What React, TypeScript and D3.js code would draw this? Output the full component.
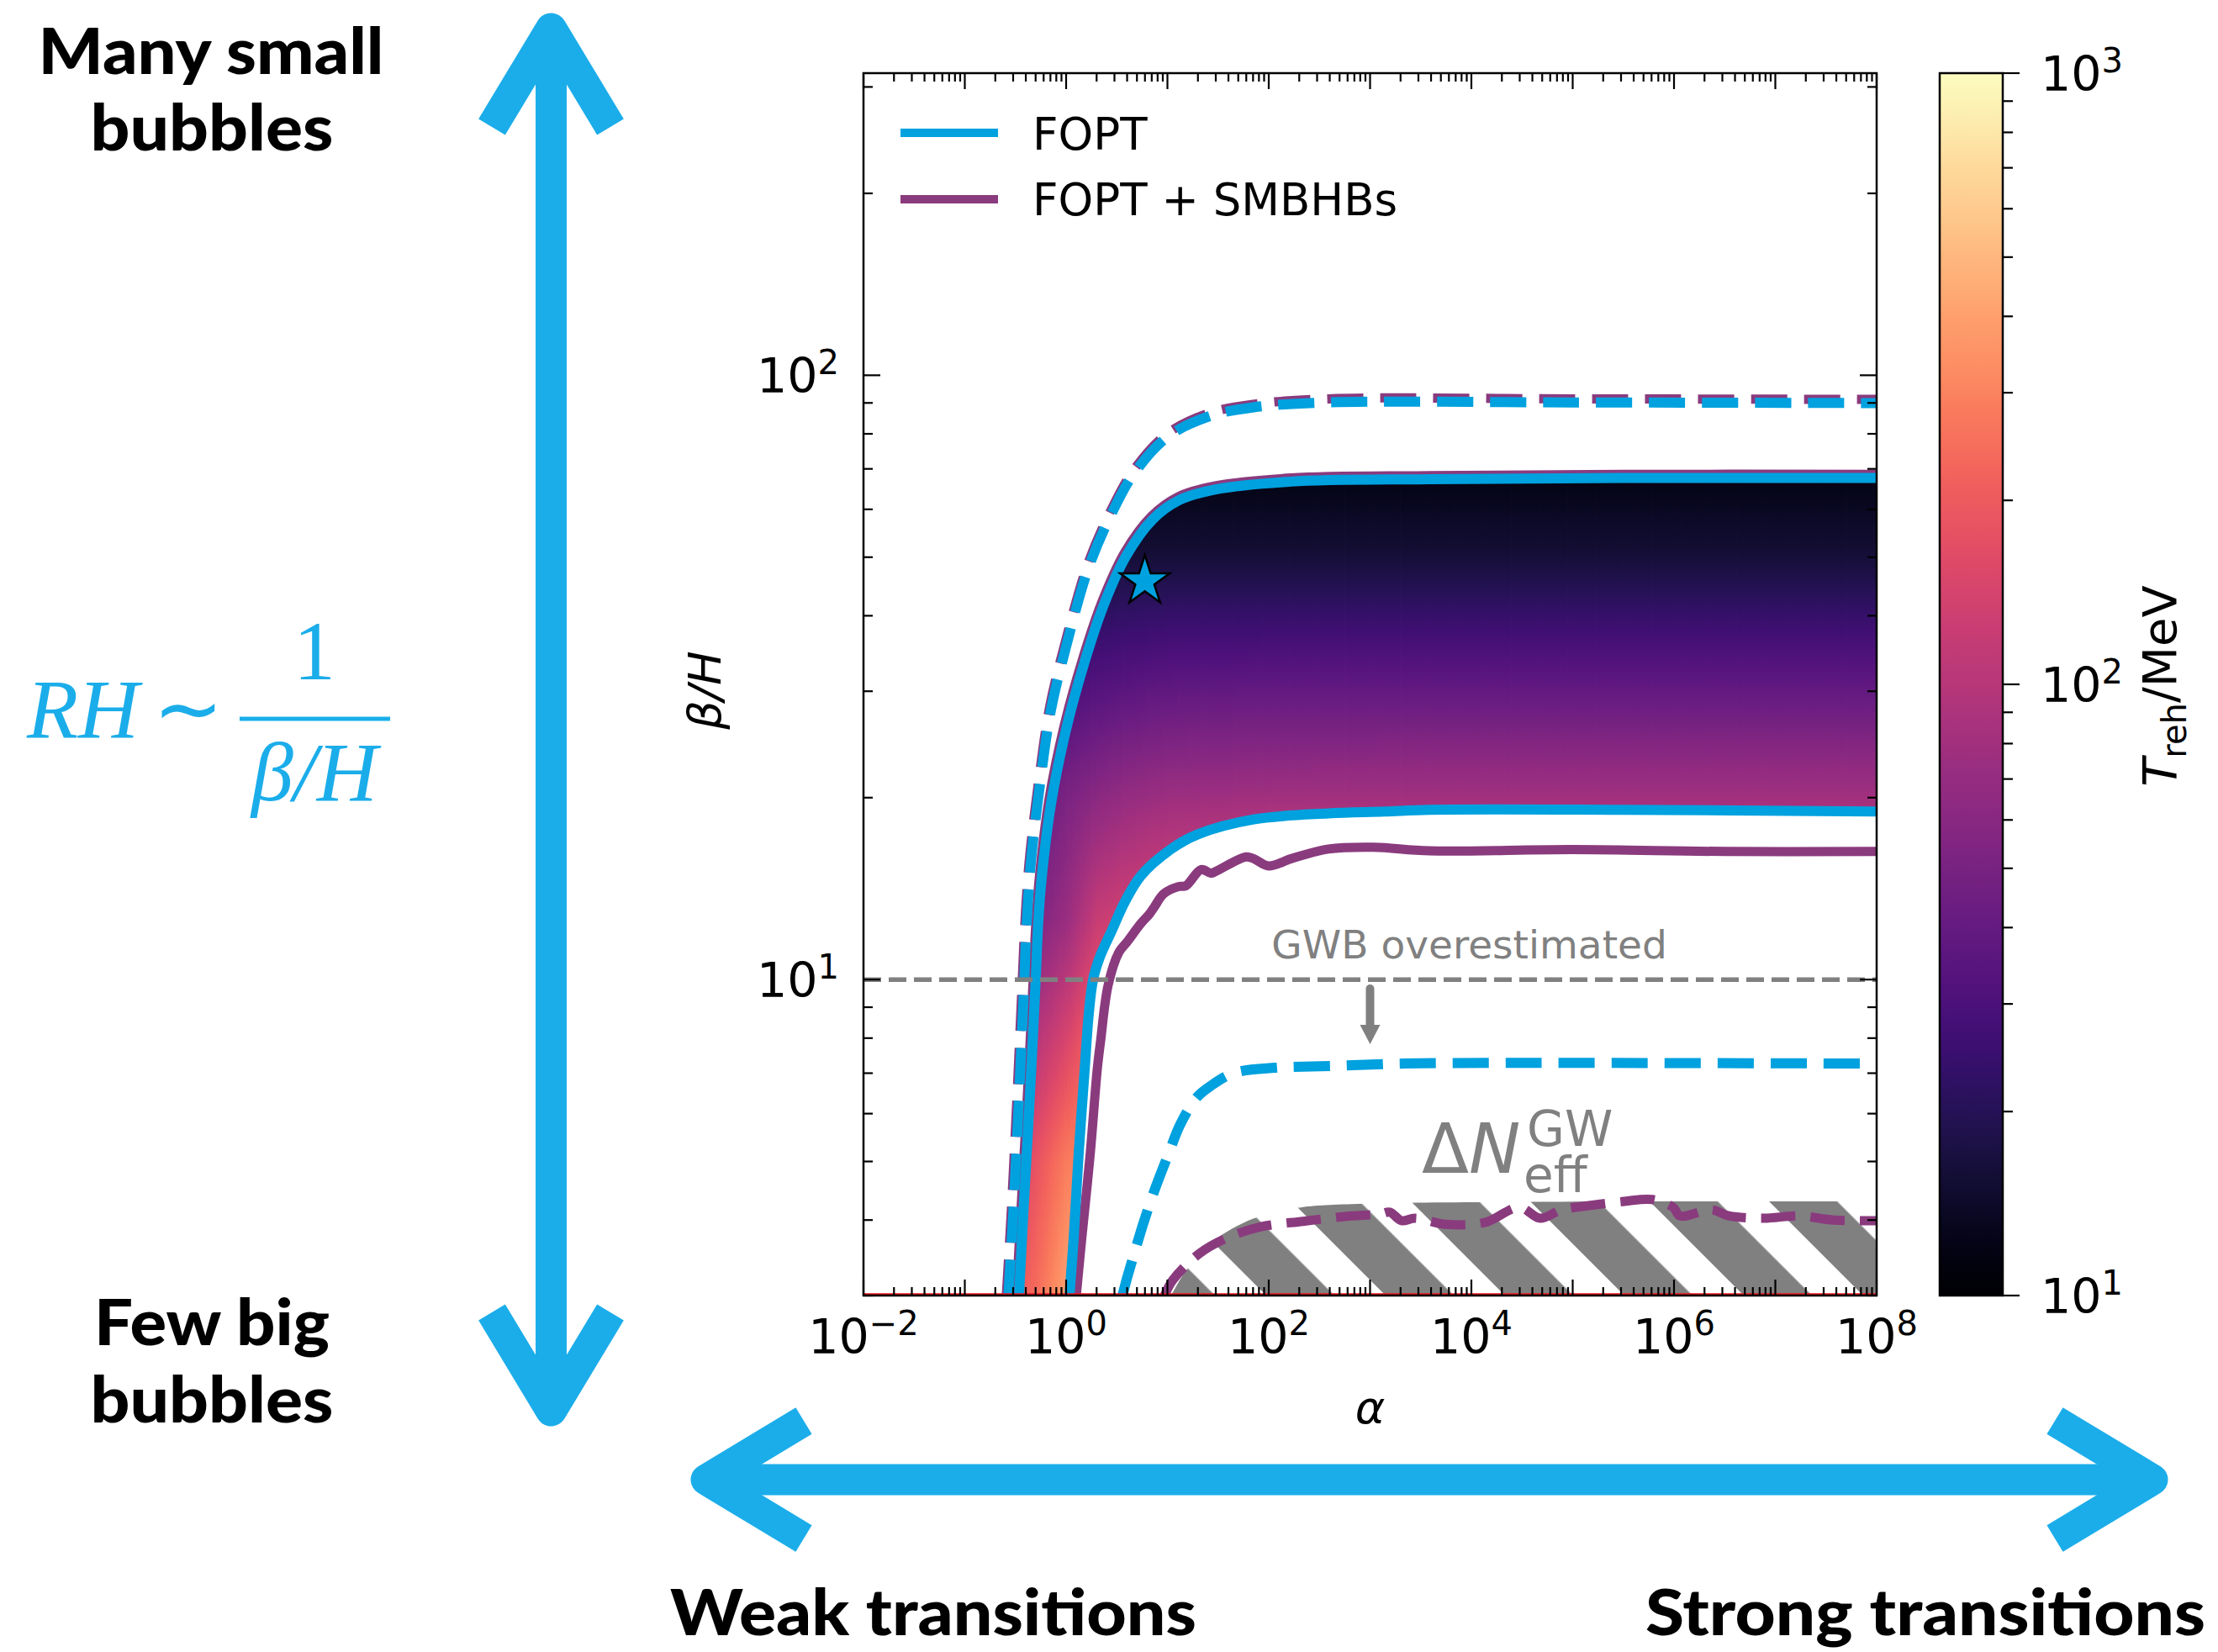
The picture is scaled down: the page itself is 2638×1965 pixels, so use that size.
import React from 'react';
import * as d3 from 'd3';

const W = 2638;
const H = 1965;

// ---------- axes ----------
const alphaDomain = [1e-2, 1e8];
const betaDomain = [3, 316.2];
const trehDomain = [10, 1000];
const xTickLabelExps = [-2, 0, 2, 4, 6, 8];
const yTickLabelExps = [1, 2];
const cbTickLabelExps = [1, 2, 3];

// ---------- contours: [log10 alpha, log10 beta/H] ----------
const foptSolidUpper = [
  [-0.465, 0.477], [-0.42, 0.62], [-0.36, 0.8], [-0.3, 1.0], [-0.275, 1.095], [-0.237, 1.175],
  [-0.15, 1.29], [0.0, 1.414], [0.183, 1.526], [0.369, 1.619], [0.589, 1.7], [0.851, 1.761],
  [1.112, 1.793], [1.477, 1.811], [2.22, 1.824], [3.585, 1.828], [5.5, 1.83], [8, 1.83],
];
const foptSolidLower = [
  [0.033, 0.477], [0.075, 0.573], [0.124, 0.712], [0.183, 0.851], [0.224, 0.944], [0.266, 1.0],
  [0.332, 1.037], [0.456, 1.083], [0.581, 1.129], [0.739, 1.172], [1.037, 1.216], [1.295, 1.24],
  [1.851, 1.265], [2.589, 1.275], [3.146, 1.278], [3.585, 1.281], [5.5, 1.281], [8, 1.278],
];
const smbhbSolidUpper = [
  [-0.49, 0.477], [-0.445, 0.62], [-0.385, 0.8], [-0.325, 1.0], [-0.298, 1.095], [-0.258, 1.18],
  [-0.17, 1.297], [-0.018, 1.421], [0.167, 1.533], [0.355, 1.626], [0.578, 1.707], [0.843, 1.767],
  [1.106, 1.799], [1.473, 1.817], [2.22, 1.83], [3.585, 1.834], [5.5, 1.836], [8, 1.836],
];
const smbhbSolidLower = [
  [0.1, 0.477], [0.155, 0.573], [0.238, 0.712], [0.307, 0.851], [0.34, 0.898], [0.415, 0.991],
  [0.52, 1.045], [0.6, 1.062], [0.739, 1.093], [0.82, 1.108], [0.87, 1.12], [0.963, 1.142],
  [1.112, 1.154], [1.18, 1.155], [1.333, 1.182], [1.43, 1.176], [1.477, 1.179], [1.776, 1.203],
  [1.851, 1.2], [2.0, 1.188], [2.222, 1.2], [2.589, 1.216], [3.037, 1.219], [3.585, 1.213],
  [5.0, 1.215], [6.5, 1.212], [8, 1.212],
];
const foptDashedUpper = [
  [-0.57, 0.477], [-0.52, 0.62], [-0.465, 0.805], [-0.415, 0.99], [-0.39, 1.09], [-0.35, 1.19],
  [-0.26, 1.321], [-0.15, 1.446], [0.0, 1.551], [0.22, 1.681], [0.44, 1.768], [0.664, 1.836],
  [1.0, 1.898], [1.41, 1.932], [1.85, 1.947], [2.59, 1.955], [5, 1.955], [8, 1.954],
];
const smbhbDashedUpper = [
  [-0.59, 0.477], [-0.54, 0.62], [-0.485, 0.805], [-0.435, 0.99], [-0.408, 1.09], [-0.366, 1.193],
  [-0.274, 1.325], [-0.163, 1.451], [-0.012, 1.556], [0.21, 1.686], [0.432, 1.773], [0.658, 1.841],
  [0.995, 1.903], [1.405, 1.937], [1.85, 1.952], [2.59, 1.961], [5, 1.961], [8, 1.96],
];
const foptDashedLower = [
  [0.556, 0.477], [0.598, 0.504], [0.68, 0.551], [0.763, 0.597], [0.874, 0.652], [1.012, 0.712],
  [1.123, 0.759], [1.289, 0.805], [1.427, 0.824], [1.649, 0.845], [2.064, 0.854], [2.617, 0.857],
  [3.336, 0.861], [5, 0.862], [8, 0.861],
];
const smbhbDashedLower = [
  [0.97, 0.477], [1.054, 0.503], [1.317, 0.547], [1.593, 0.573], [1.925, 0.591], [2.34, 0.6],
  [2.755, 0.608], [3.095, 0.612], [3.195, 0.615], [3.311, 0.601], [3.444, 0.605], [3.751, 0.595],
  [4.133, 0.598], [4.473, 0.623], [4.68, 0.605], [4.888, 0.619], [5.162, 0.626], [5.51, 0.633],
  [5.784, 0.636], [5.992, 0.623], [6.058, 0.609], [6.373, 0.619], [6.539, 0.609], [6.888, 0.605],
  [7.228, 0.609], [7.577, 0.602], [8, 0.601],
];
const dNeffBoundary = [
  [1.037, 0.477], [1.178, 0.517], [1.452, 0.567], [1.842, 0.604], [2.282, 0.622], [2.938, 0.629],
  [8, 0.633],
];
const benchmarkStar = [0.777, 1.659];

// ---------- reheating temperature field (MeV) read at grid nodes ----------
const fillLogAlpha = [-0.6, -0.3, 0, 0.3, 0.6, 1, 2, 4, 8];
const fillLogBeta = [0.48, 0.7, 0.9, 1.1, 1.3, 1.5, 1.7, 1.9];
const fillTreh = [
  [160, 240, 400, 550, 600, 600, 600, 600, 600],
  [130, 180, 280, 340, 420, 450, 450, 450, 450],
  [80, 100, 145, 230, 300, 380, 400, 400, 400],
  [45, 55, 72, 120, 138, 160, 178, 178, 178],
  [36, 40, 52, 62, 70, 76, 80, 81, 81],
  [24, 25, 28, 31, 33, 35, 36, 36, 36],
  [14, 14, 15, 16, 16, 16, 16, 16, 16],
  [10, 10, 10, 10, 10, 10, 10, 10, 10],
];

// ---------- styling ----------
const BLUE = '#00a1df';
const PURPLE = '#8a3b7e';
const ARROW_BLUE = '#1badea';
const GRAY = '#808080';

// ---------- layout ----------
const PL = 1027, PR = 2232, PT = 87, PB = 1541;
const CBL = 2307, CBR = 2382;

const x = d3.scaleLog().domain(alphaDomain).range([PL, PR]);
const y = d3.scaleLog().domain(betaDomain).range([PB, PT]);
const cy = d3.scaleLog().domain(trehDomain).range([PB, PT]);
const P = (p: number[]): [number, number] => [x(10 ** p[0]), y(10 ** p[1])];
const curve = d3.line().curve(d3.curveCatmullRom.alpha(0.5));

function interp1(arr: number[], v: number): [number, number, number] {
  const n = arr.length;
  if (v <= arr[0]) return [0, 0, 0];
  if (v >= arr[n - 1]) return [n - 1, n - 1, 0];
  const i = d3.bisectRight(arr, v) - 1;
  return [i, i + 1, (v - arr[i]) / (arr[i + 1] - arr[i])];
}
function logTAt(la: number, lb: number) {
  const [c0, c1, fc] = interp1(fillLogAlpha, la);
  const [r0, r1, fr] = interp1(fillLogBeta, lb);
  const g = (r: number, c: number) => Math.log10(fillTreh[r][c]);
  const a = g(r0, c0) * (1 - fc) + g(r0, c1) * fc;
  const b = g(r1, c0) * (1 - fc) + g(r1, c1) * fc;
  return a * (1 - fr) + b * fr;
}
const magma = (logT: number) => d3.interpolateMagma(Math.max(0, Math.min(1, (logT - 1) / 2)));

function PowLabel({ px, py, exp, anchor, size = 57 }: any) {
  const e = exp < 0 ? `\u2212${-exp}` : `${exp}`;
  return (
    <text x={px} y={py} textAnchor={anchor} fontFamily="DejaVu Sans" fontSize={size} fill="#000">
      10<tspan dy={-22} fontSize={40}>{e}</tspan>
    </text>
  );
}

export default function App() {
  const upperD = curve(foptSolidUpper.map(P)) as string;
  const lowerRevD = curve(foptSolidLower.slice().reverse().map(P)) as string;
  const regionD = upperD + 'L' + lowerRevD.slice(1) + 'Z';
  const hatchD =
    (curve(dNeffBoundary.map(P)) as string) +
    `L${x(alphaDomain[1])},${PB}L${P(dNeffBoundary[0])[0]},${PB}Z`;

  const gTop = y(10 ** 1.9);
  const xStart = x(10 ** -0.7);
  const NS = 270;
  const sw = (PR - xStart) / NS;
  const K = 40;
  const strips = d3.range(NS).map((i) => {
    const xc = xStart + (i + 0.5) * sw;
    const la = Math.log10(x.invert(xc));
    const stops = d3.range(K).map((k) => {
      const yy = gTop + (k / (K - 1)) * (PB - gTop);
      const lb = Math.log10(y.invert(yy));
      return { off: k / (K - 1), col: magma(logTAt(la, lb)) };
    });
    return { i, x0: xStart + i * sw, stops };
  });

  const xMajor = d3.range(-2, 9).map((e) => 10 ** e);
  const xMinor: number[] = [];
  for (let e = -2; e < 8; e++) for (let m = 2; m <= 9; m++) xMinor.push(m * 10 ** e);
  const yMajor = [10, 100];
  const yMinor = [3, 4, 5, 6, 7, 8, 9, 20, 30, 40, 50, 60, 70, 80, 90, 200, 300];
  const cbMajor = [10, 100, 1000];
  const cbMinor: number[] = [];
  for (let e = 1; e < 3; e++) for (let m = 2; m <= 9; m++) cbMinor.push(m * 10 ** e);

  const star = d3.symbol(d3.symbolStar, 1080)() as string;
  const [sx, sy] = P(benchmarkStar);

  const boldFont = { fontFamily: 'Lato', fontWeight: 900, fontSize: 77, fill: '#000' } as any;

  const arrowMid = P([3, 0.985]);
  const arrowTip = P([3, 0.893]);

  return (
    <svg width={W} height={H} style={{ position: 'absolute', left: 0, top: 0, background: '#fff' }}>
      <defs>
        <clipPath id="plotClip">
          <rect x={PL} y={PT} width={PR - PL} height={PB - PT} />
        </clipPath>
        <clipPath id="regionClip">
          <path d={regionD} />
        </clipPath>
        <pattern id="hatch" patternUnits="userSpaceOnUse" width={100.4} height={100.4}
          patternTransform="rotate(-45) translate(75.7,0)">
          <rect x={0} y={0} width={57.3} height={100.4} fill={GRAY} />
        </pattern>
        {strips.map((s) => (
          <linearGradient key={s.i} id={`sg${s.i}`} gradientUnits="userSpaceOnUse" x1={0} y1={gTop} x2={0} y2={PB}>
            {s.stops.map((st, k) => (
              <stop key={k} offset={st.off} stopColor={st.col} />
            ))}
          </linearGradient>
        ))}
        <linearGradient id="cbGrad" gradientUnits="userSpaceOnUse" x1={0} y1={PB} x2={0} y2={PT}>
          {d3.range(41).map((k) => (
            <stop key={k} offset={k / 40} stopColor={d3.interpolateMagma(k / 40)} />
          ))}
        </linearGradient>
      </defs>

      <g clipPath="url(#regionClip)">
        {strips.map((s) => (
          <rect key={s.i} x={s.x0} y={gTop} width={sw + 0.8} height={PB - gTop} fill={`url(#sg${s.i})`} />
        ))}
      </g>

      <g clipPath="url(#plotClip)" fill="none" strokeLinejoin="round">
        <path d={hatchD} fill="url(#hatch)" stroke="none" />
        <path d={curve(foptDashedLower.map(P)) as string} stroke={BLUE} strokeWidth={12} strokeDasharray="43 20" />
        <path d={curve(smbhbDashedLower.map(P)) as string} stroke={PURPLE} strokeWidth={11} strokeDasharray="41 18" />
        <path d={curve(smbhbSolidLower.map(P)) as string} stroke={PURPLE} strokeWidth={11} />
        <path d={curve(smbhbSolidUpper.map(P)) as string} stroke={PURPLE} strokeWidth={11} />
        <path d={curve(foptSolidLower.map(P)) as string} stroke={BLUE} strokeWidth={12} />
        <path d={curve(foptSolidUpper.map(P)) as string} stroke={BLUE} strokeWidth={12} />
        <path d={curve(smbhbDashedUpper.map(P)) as string} stroke={PURPLE} strokeWidth={11} strokeDasharray="43 20" />
        <path d={curve(foptDashedUpper.map(P)) as string} stroke={BLUE} strokeWidth={12} strokeDasharray="43 20" />
        <line x1={PL} x2={PR} y1={y(10)} y2={y(10)} stroke={GRAY} strokeWidth={5.5} strokeDasharray="21 9" />
        <line x1={PL} x2={PR} y1={PB - 1.5} y2={PB - 1.5} stroke="#e8141c" strokeWidth={2.5} />
      </g>

      <text x={x(10 ** 3.98)} y={1140} textAnchor="middle" fontFamily="DejaVu Sans" fontSize={47} fill={GRAY}>
        GWB overestimated
      </text>
      <line x1={arrowMid[0]} x2={arrowMid[0]} y1={arrowMid[1]} y2={arrowTip[1] - 20} stroke={GRAY} strokeWidth={10} strokeLinecap="round" />
      <path d={`M${arrowTip[0] - 12},${arrowTip[1] - 23}L${arrowTip[0] + 12},${arrowTip[1] - 23}L${arrowTip[0]},${arrowTip[1]}Z`} fill={GRAY} />
      <text x={1691} y={1395} fontFamily="DejaVu Sans" fontSize={82} fill={GRAY}>
        Δ<tspan fontStyle="italic">N</tspan>
        <tspan x={1816} y={1363} fontSize={58} fontStyle="normal">GW</tspan>
        <tspan x={1812} y={1418} fontSize={58} fontStyle="normal">eff</tspan>
      </text>

      <path d={star} transform={`translate(${sx},${sy})`} fill={BLUE} stroke="#000" strokeWidth={2.5} />

      <line x1={1071} x2={1187} y1={158} y2={158} stroke={BLUE} strokeWidth={10} />
      <text x={1228} y={178} fontFamily="DejaVu Sans" fontSize={53}>FOPT</text>
      <line x1={1071} x2={1187} y1={237} y2={237} stroke={PURPLE} strokeWidth={10} />
      <text x={1228} y={256} fontFamily="DejaVu Sans" fontSize={53}>FOPT + SMBHBs</text>

      <rect x={PL} y={PT} width={PR - PL} height={PB - PT} fill="none" stroke="#000" strokeWidth={2.5} />
      <g stroke="#000" strokeWidth={2.2}>
        {xMajor.map((v, i) => (
          <g key={`xM${i}`}>
            <line x1={x(v)} x2={x(v)} y1={PB} y2={PB - 19} />
            <line x1={x(v)} x2={x(v)} y1={PT} y2={PT + 19} />
          </g>
        ))}
        {xMinor.map((v, i) => (
          <g key={`xm${i}`}>
            <line x1={x(v)} x2={x(v)} y1={PB} y2={PB - 10} />
            <line x1={x(v)} x2={x(v)} y1={PT} y2={PT + 10} />
          </g>
        ))}
        {yMajor.map((v, i) => (
          <g key={`yM${i}`}>
            <line x1={PL} x2={PL + 20} y1={y(v)} y2={y(v)} />
            <line x1={PR} x2={PR - 20} y1={y(v)} y2={y(v)} />
          </g>
        ))}
        {yMinor.map((v, i) => (
          <g key={`ym${i}`}>
            <line x1={PL} x2={PL + 11} y1={y(v)} y2={y(v)} />
            <line x1={PR} x2={PR - 11} y1={y(v)} y2={y(v)} />
          </g>
        ))}
      </g>
      {xTickLabelExps.map((e) => (
        <PowLabel key={`xl${e}`} px={x(10 ** e)} py={1610} exp={e} anchor="middle" />
      ))}
      {yTickLabelExps.map((e) => (
        <PowLabel key={`yl${e}`} px={998} py={y(10 ** e) + 21} exp={e} anchor="end" />
      ))}
      <text x={(PL + PR) / 2} y={1693} textAnchor="middle" fontFamily="DejaVu Sans" fontStyle="italic" fontSize={54}>α</text>
      <text transform={`translate(857,${(PT + PB) / 2 + 7}) rotate(-90)`} textAnchor="middle" fontFamily="DejaVu Sans" fontStyle="italic" fontSize={54}>β/H</text>

      <rect x={CBL} y={PT} width={CBR - CBL} height={PB - PT} fill="url(#cbGrad)" stroke="#000" strokeWidth={2.5} />
      <g stroke="#000" strokeWidth={2.2}>
        {cbMajor.map((v, i) => (
          <line key={`cM${i}`} x1={CBR} x2={CBR + 20} y1={cy(v)} y2={cy(v)} />
        ))}
        {cbMinor.map((v, i) => (
          <line key={`cm${i}`} x1={CBR} x2={CBR + 12} y1={cy(v)} y2={cy(v)} />
        ))}
      </g>
      {cbTickLabelExps.map((e) => (
        <PowLabel key={`cl${e}`} px={2427} py={cy(10 ** e) + 21} exp={e} anchor="start" />
      ))}
      <text transform={`translate(2588,816) rotate(-90)`} textAnchor="middle" fontFamily="DejaVu Sans" fontSize={56}>
        <tspan fontStyle="italic">T</tspan>
        <tspan dy={12} fontSize={40}>reh</tspan>
        <tspan dy={-12}>/MeV</tspan>
      </text>

      <g fill="none" stroke={ARROW_BLUE} strokeWidth={37} strokeLinejoin="round">
        <path d="M655.5,34L655.5,1678" />
        <path d="M585,151L655.5,34L726,151" />
        <path d="M585,1561L655.5,1678L726,1561" />
        <path d="M840,1760L2560,1760" />
        <path d="M956,1690L840,1760L956,1830" />
        <path d="M2444,1690L2560,1760L2444,1830" />
      </g>

      <text x={251} y={88} textAnchor="middle" {...boldFont} textLength={411} lengthAdjust="spacingAndGlyphs">Many small</text>
      <text x={252} y={179} textAnchor="middle" {...boldFont} textLength={289} lengthAdjust="spacingAndGlyphs">bubbles</text>
      <text x={252} y={1600} textAnchor="middle" {...boldFont} textLength={280} lengthAdjust="spacingAndGlyphs">Few big</text>
      <text x={252} y={1692} textAnchor="middle" {...boldFont} textLength={289} lengthAdjust="spacingAndGlyphs">bubbles</text>
      <text x={797} y={1945} {...boldFont} textLength={626} lengthAdjust="spacingAndGlyphs">Weak transitions</text>
      <text x={1957} y={1945} {...boldFont} textLength={666} lengthAdjust="spacingAndGlyphs">Strong transitions</text>

      <g fill={ARROW_BLUE} fontFamily="Liberation Serif" fontSize={100}>
        <text x={32} y={877} fontStyle="italic">RH</text>
        <text x={224} y={877} textAnchor="middle">∼</text>
        <text x={374} y={808} textAnchor="middle">1</text>
        <rect x={285} y={852.5} width={179} height={5} />
        <text x={374} y={952} textAnchor="middle" fontStyle="italic">β/H</text>
      </g>
    </svg>
  );
}
